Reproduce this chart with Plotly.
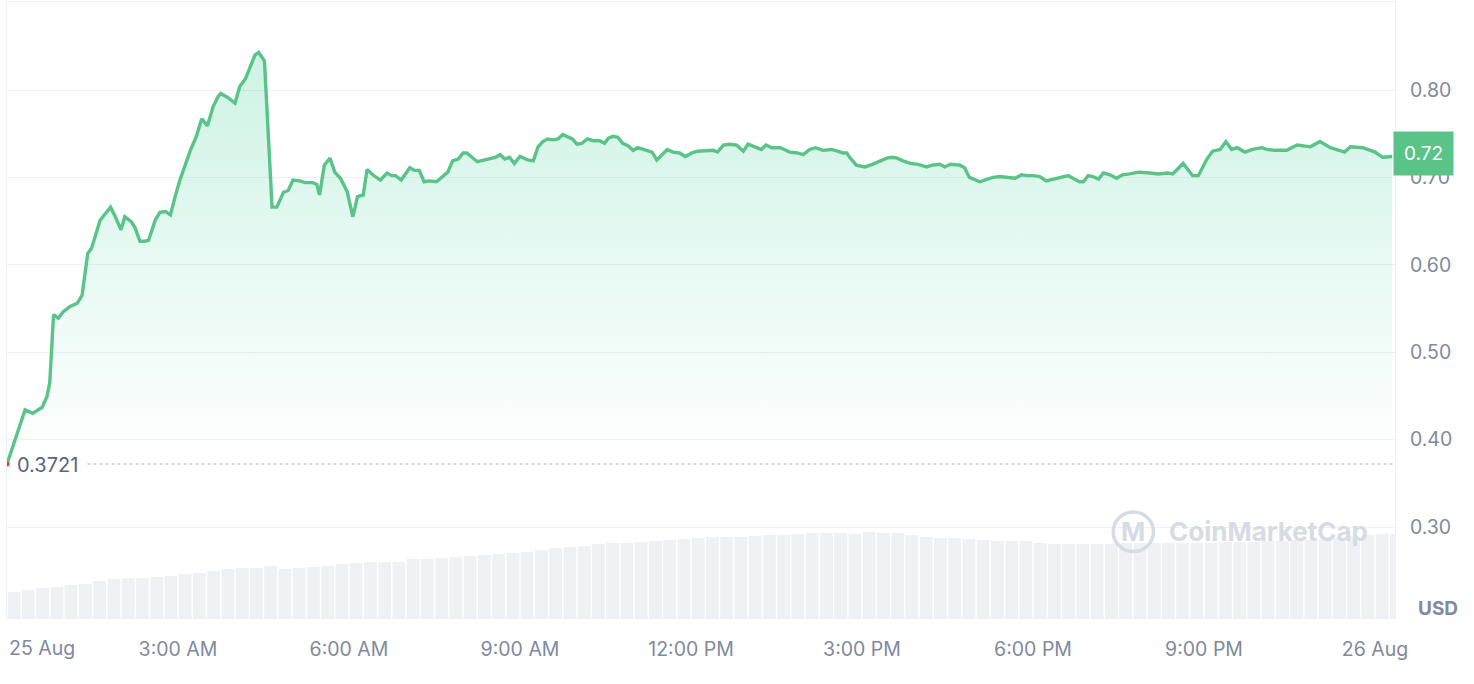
import pandas as pd
import plotly.graph_objects as go

day = pd.Timestamp("2024-08-25 00:00")
open_price = 0.3721

# price path: minutes after midnight and price in USD
price_min = [0, 19, 27, 37, 42, 45, 49, 54, 59, 66, 74, 79, 85, 89, 98, 104, 109, 114, 120, 124,
             131, 135, 140, 145, 149, 156, 161, 167, 172, 177, 182, 193, 199, 205, 211, 217, 222, 225, 233, 240,
             245, 251, 256, 261, 265, 271, 279, 284, 291, 296, 301, 308, 314, 322, 326, 329, 334, 340, 345, 351,
             358, 364, 369, 375, 379, 385, 393, 400, 405, 409, 415, 424, 429, 434, 439, 445, 452, 458, 464, 469,
             475, 480, 484, 495, 503, 508, 514, 519, 524, 529, 534, 540, 548, 554, 559, 564, 569, 575, 580, 585,
             589, 595, 600, 605, 611, 617, 624, 629, 633, 638, 643, 648, 654, 659, 664, 669, 679, 684, 689, 695,
             701, 708, 714, 721, 727, 737, 743, 748, 754, 761, 768, 775, 780, 787, 794, 799, 805, 814, 824, 832,
             838, 845, 851, 859, 868, 874, 880, 884, 887, 894, 903, 911, 916, 921, 926, 932, 937, 943, 951, 959,
             968, 974, 982, 987, 993, 1003, 1008, 1013, 1019, 1024, 1032, 1038, 1045, 1053, 1061, 1068, 1074, 1080, 1087, 1094,
             1101, 1111, 1117, 1122, 1129, 1133, 1138, 1143, 1149, 1154, 1161, 1168, 1174, 1182, 1191, 1203, 1212, 1222, 1227, 1238,
             1248, 1254, 1263, 1269, 1277, 1283, 1289, 1295, 1303, 1311, 1321, 1326, 1335, 1347, 1358, 1372, 1382, 1393, 1408, 1414,
             1427, 1440, 1448, 1458]
prices = [0.3721, 0.434, 0.430, 0.437, 0.449, 0.465, 0.543, 0.539, 0.546, 0.552, 0.556, 0.565, 0.613, 0.619, 0.651, 0.660, 0.666, 0.655, 0.640, 0.655,
          0.649, 0.642, 0.627, 0.627, 0.628, 0.651, 0.660, 0.661, 0.657, 0.678, 0.697, 0.731, 0.746, 0.767, 0.759, 0.781, 0.792, 0.796, 0.791, 0.785,
          0.804, 0.813, 0.827, 0.840, 0.843, 0.833, 0.666, 0.666, 0.683, 0.685, 0.697, 0.696, 0.694, 0.694, 0.692, 0.680, 0.714, 0.722, 0.706, 0.699,
          0.684, 0.655, 0.678, 0.680, 0.709, 0.703, 0.697, 0.705, 0.702, 0.702, 0.697, 0.711, 0.708, 0.708, 0.695, 0.696, 0.695, 0.700, 0.706, 0.719,
          0.721, 0.728, 0.728, 0.718, 0.720, 0.721, 0.723, 0.726, 0.721, 0.723, 0.716, 0.724, 0.720, 0.719, 0.735, 0.741, 0.744, 0.743, 0.744, 0.749,
          0.747, 0.744, 0.738, 0.739, 0.744, 0.742, 0.742, 0.739, 0.745, 0.747, 0.746, 0.739, 0.736, 0.731, 0.734, 0.732, 0.729, 0.720, 0.726, 0.732,
          0.729, 0.728, 0.724, 0.728, 0.730, 0.731, 0.731, 0.729, 0.737, 0.738, 0.737, 0.730, 0.738, 0.735, 0.732, 0.737, 0.734, 0.734, 0.729, 0.728,
          0.726, 0.732, 0.734, 0.731, 0.732, 0.730, 0.728, 0.728, 0.723, 0.714, 0.712, 0.715, 0.717, 0.720, 0.722, 0.723, 0.722, 0.719, 0.716, 0.715,
          0.712, 0.714, 0.715, 0.712, 0.715, 0.714, 0.711, 0.700, 0.697, 0.695, 0.698, 0.700, 0.701, 0.700, 0.699, 0.703, 0.702, 0.702, 0.701, 0.696,
          0.698, 0.700, 0.702, 0.699, 0.695, 0.695, 0.702, 0.701, 0.698, 0.705, 0.703, 0.699, 0.703, 0.704, 0.706, 0.705, 0.704, 0.705, 0.704, 0.716,
          0.702, 0.702, 0.721, 0.730, 0.732, 0.741, 0.732, 0.734, 0.729, 0.732, 0.734, 0.732, 0.731, 0.731, 0.737, 0.735, 0.741, 0.734, 0.729, 0.735,
          0.734, 0.729, 0.723, 0.724]

# 24h volume, one bar per 15 minutes (millions USD)
vol_min = list(range(0, 1456, 15))
volumes = [26, 28, 30, 31, 33, 34, 37, 39, 40, 40, 41, 42, 44, 45, 47, 49, 50, 50, 52, 49,
           50, 51, 52, 54, 55, 56, 56, 56, 59, 59, 60, 61, 62, 63, 64, 65, 66, 68, 70, 71,
           72, 74, 75, 75, 76, 77, 78, 79, 80, 81, 81, 81, 82, 83, 83, 84, 85, 85, 85, 84,
           86, 85, 85, 83, 81, 80, 80, 79, 78, 77, 77, 77, 75, 74, 74, 74, 74, 74, 75, 75,
           75, 75, 75, 75, 75, 76, 76, 76, 77, 77, 78, 78, 79, 80, 82, 83, 84, 84]

tick_hours = [3, 6, 9, 12, 15, 18, 21, 24]
tick_text = ["3:00 AM", "6:00 AM", "9:00 AM", "12:00 PM", "3:00 PM", "6:00 PM", "9:00 PM", "26 Aug"]
price_ticks = [0.3, 0.4, 0.5, 0.6, 0.7, 0.8]

green = "#5ac388"
grid = "#eff2f5"
label_col = "#808a9d"
font = "Inter"
mark = "#d6dbe5"

t_price = [day + pd.Timedelta(minutes=m) for m in price_min]
t_vol = [day + pd.Timedelta(minutes=m + 7.5) for m in vol_min]

fig = go.Figure()

fig.add_trace(go.Bar(x=t_vol, y=volumes, yaxis="y2", marker=dict(color="#f0f1f5", line_width=0),
                     showlegend=False, hoverinfo="skip"))

fig.add_trace(go.Scatter(
    x=t_price, y=prices, mode="lines", line=dict(color=green, width=3.4), fill="tozeroy",
    fillgradient=dict(type="vertical", start=0.38, stop=0.86,
                      colorscale=[[0, "rgba(22,199,132,0)"], [1, "rgba(22,199,132,0.22)"]]),
    showlegend=False))

fig.add_trace(go.Scatter(x=[t_price[0]], y=[open_price], mode="markers",
                         marker=dict(color="#ea3943", size=5), showlegend=False))

x_end = day + pd.Timedelta(minutes=1461)

fig.add_shape(type="line", xref="paper", yref="y", x0=0.058, x1=1, y0=open_price, y1=open_price,
              line=dict(color="#a6b0c3", width=1.2, dash="dot"))

fig.add_annotation(x=t_price[0], y=open_price, xref="x", yref="y", text=f"{open_price:.4f}",
                   showarrow=False, xanchor="left", yanchor="middle", xshift=8, yshift=-1,
                   font=dict(family=font, size=20, color="#58667e"))

fig.add_annotation(x=1, y=prices[-1], xref="paper", yref="y", text=f"{prices[-1]:.2f}",
                   showarrow=False, xanchor="left", yanchor="middle", xshift=-2, yshift=3,
                   bgcolor=green, borderpad=10, font=dict(family=font, size=19, color="white"))

fig.add_annotation(x=1, y=0, xref="paper", yref="paper", text="<b>USD</b>", showarrow=False,
                   xanchor="left", yanchor="bottom", xshift=21, yshift=-4,
                   font=dict(family=font, size=19, color="#808a9d"))

fig.add_annotation(x=0, y=0, xref="paper", yref="paper", text="25 Aug", showarrow=False,
                   xanchor="left", yanchor="top", xshift=0, yshift=-16,
                   font=dict(family=font, size=19.5, color=label_col))

# watermark
fig.add_annotation(x=0.909, y=0.14, xref="paper", yref="paper", text="<b>CoinMarketCap</b>",
                   showarrow=False, xanchor="center", yanchor="middle",
                   font=dict(family=font, size=26, color=mark))
fig.add_annotation(x=0.8115, y=0.14, xref="paper", yref="paper", text="<b>M</b>",
                   showarrow=False, xanchor="center", yanchor="middle",
                   font=dict(family=font, size=26, color=mark))
fig.add_shape(type="circle", xref="paper", yref="paper", x0=0.797, x1=0.826, y0=0.108, y1=0.172,
              line=dict(color=mark, width=3.5))

fig.update_layout(
    width=1474, height=684,
    margin=dict(l=7, r=79, t=2, b=66),
    paper_bgcolor="white", plot_bgcolor="white",
    bargap=0.1,
    font=dict(family=font, size=19, color=label_col),
    xaxis=dict(range=[day, x_end], tickvals=[day + pd.Timedelta(hours=h) for h in tick_hours],
               ticktext=tick_text, showgrid=False, showline=True, linecolor=grid, mirror=True,
               zeroline=False, ticks="", ticklabelstandoff=14, tickfont=dict(size=19.5, color=label_col)),
    yaxis=dict(side="right", range=[0.1959, 0.9007], tickvals=price_ticks, tickformat=".2f",
               showgrid=True, gridcolor=grid, gridwidth=1, showline=True, linecolor=grid, mirror=True,
               zeroline=False, ticks="", ticklabelstandoff=10, tickfont=dict(size=19.5, color=label_col)),
    yaxis2=dict(overlaying="y", range=[0, 616], visible=False),
)

fig.write_html("out.html", config={"displayModeBar": False},
               post_script="document.body.style.margin='0';")
